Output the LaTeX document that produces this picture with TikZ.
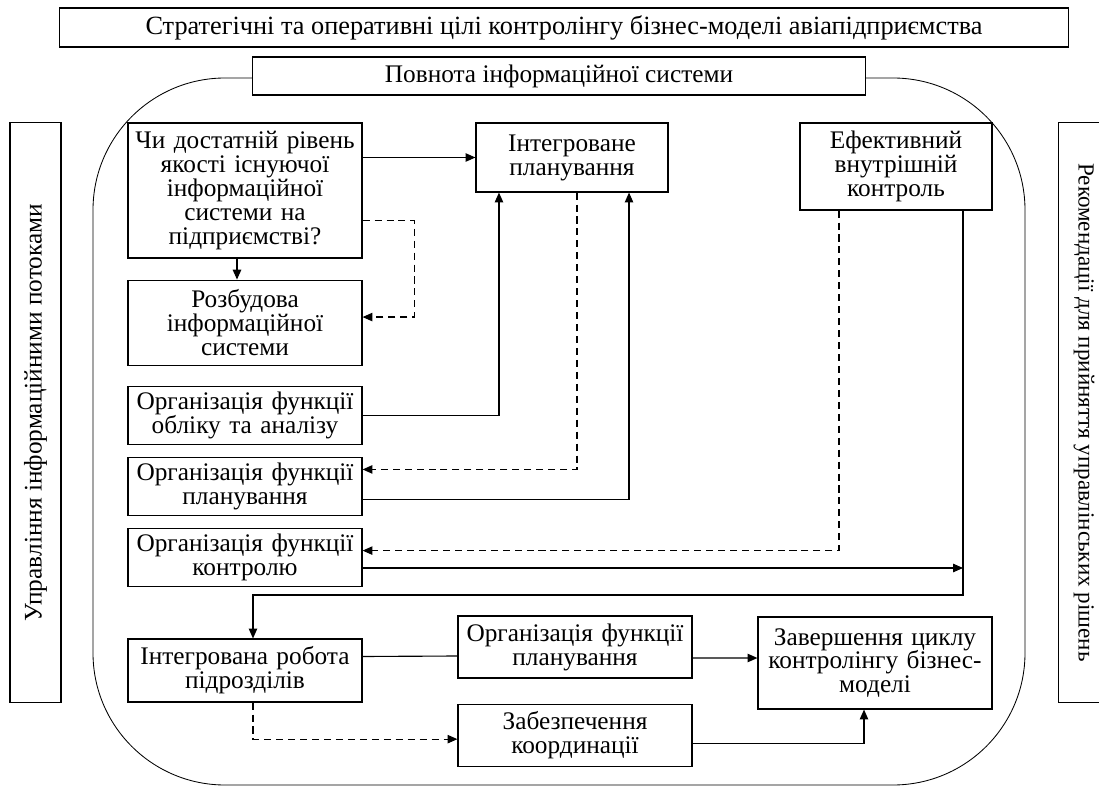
\documentclass[tikz,border=0pt]{standalone}
\usepackage{fontspec}
\setmainfont{Liberation Serif}
\usetikzlibrary{positioning,arrows.meta}
\tikzstyle{block} = [draw, line width=0.8pt, fill=white, align=center, inner sep=1pt, font=\fontsize{18}{17}\selectfont]
\tikzstyle{side} = [block, minimum width=14.475cm, minimum height=1.275cm]
\tikzstyle{wide} = [block, minimum width=5.85cm, text width=5.75cm]
\tikzstyle{narrow} = [block, minimum width=4.8cm, text width=4.7cm]
\tikzstyle{link} = [line width=0.8pt]
\tikzstyle{dlink} = [link, dash pattern=on 5pt off 3.5pt]

\begin{document}
\begin{tikzpicture}[x=0.025cm, y=-0.025cm, >={Triangle[length=7pt,width=6pt]}]
        \useasboundingbox (0,0) rectangle (1099,787);
        %Frame
        \draw[line width=0.6pt, rounded corners=3.3cm] (93,78) rectangle (1025,785);
        %Blocks
        \node [block, minimum width=25.2cm, minimum height=0.975cm, font=\fontsize{18.7}{17}\selectfont] (goals) at (564,27.5) {Стратегічні та оперативні цілі контролінгу бізнес-моделі авіапідприємства};
        \node [block, minimum width=15.3cm, minimum height=0.95cm] (complete) at (559,76) {Повнота інформаційної системи};
        \node [side, rotate=90] (flows) at (35.5,412.5) {Управління інформаційними потоками};
        \node [side, rotate=-90, font=\fontsize{16.4}{17}\selectfont] (advice) at (1084,412.5) {Рекомендації для прийняття управлінських рішень};
        \node [wide, minimum height=3.375cm] (quality) at (245,190.5) {Чи достатній рівень\\якості існуючої\\інформаційної\\системи на\\підприємстві?};
        \node [wide, minimum height=2.125cm, below = 0.525cm of quality] (develop) {Розбудова\\інформаційної\\системи};
        \node [wide, minimum height=1.45cm, below = 0.5cm of develop] (fnacc) {Організація функції\\обліку та аналізу};
        \node [wide, minimum height=1.45cm, below = 0.3cm of fnacc] (fnplan) {Організація функції\\планування};
        \node [wide, minimum height=1.45cm, below = 0.3cm of fnplan] (fnctrl) {Організація функції\\контролю};
        \node [narrow, minimum height=1.725cm] (intplan) at (572,157.5) {Інтегроване\\планування};
        \node [narrow, minimum height=2.175cm] (effctrl) at (896,166.5) {Ефективний\\внутрішній\\контроль};
        \node [wide, minimum height=1.575cm] (intwork) at (245,670.5) {Інтегрована робота\\підрозділів};
        \node [wide, minimum height=1.55cm] (plan2) at (575,647) {Організація функції\\планування};
        \node [wide, minimum height=1.55cm, below = 0.625cm of plan2] (coord) {Забезпечення\\координації};
        \node [wide, minimum height=2.3cm] (finish) at (875,663) {Завершення циклу\\контролінгу бізнес-\\моделі};
        \coordinate (turn) at (963,595);
        \coordinate (ctrlend) at (963,568);
        %Arrows
        \draw[link,->] (quality.east |- intplan.west) -- (intplan.west);
        \draw[link,->] ([xshift=-0.2cm]quality.south) -- ([xshift=-0.2cm]develop.north);
        \draw[dlink,->] ([yshift=-0.76cm]quality.east) -- ++(52,0) |- ([yshift=0.14cm]develop.east);
        \draw[link,->] (fnacc.east) -| ([xshift=-1.825cm]intplan.south);
        \draw[dlink,->] ([xshift=0.125cm]intplan.south) |- ([yshift=0.425cm]fnplan.east);
        \draw[link,->] ([yshift=-0.325cm]fnplan.east) -| ([xshift=1.425cm]intplan.south);
        \draw[dlink,->] ([xshift=-1.425cm]effctrl.south) |- ([yshift=0.175cm]fnctrl.east);
        \draw[link,->] (fnctrl.east |- ctrlend) -- (ctrlend);
        \draw[link,->] (effctrl.south -| turn) -- (turn) -| ([xshift=0.2cm]intwork.north);
        \draw[link] ([yshift=0.35cm]intwork.east) -- ([yshift=-0.225cm]plan2.west);
        \draw[link,->] ([yshift=-0.275cm]plan2.east) -- ([yshift=0.125cm]finish.west);
        \draw[dlink,->] ([xshift=0.2cm]intwork.south) |- ([yshift=-0.1cm]coord.west);
        \draw[link,->] ([yshift=-0.2cm]coord.east) -| ([xshift=-0.275cm]finish.south);
    \end{tikzpicture}
\end{document}
